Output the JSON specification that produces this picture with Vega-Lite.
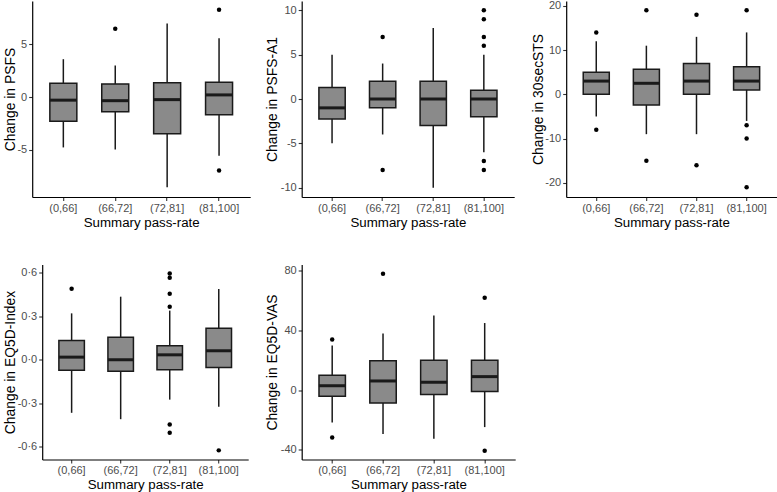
{
  "$schema": "https://vega.github.io/schema/vega-lite/v6.json",
  "background": "white",
  "padding": {"left": 3.2, "top": -1, "right": 0, "bottom": 0},
  "config": {
    "view": {"stroke": null},
    "font": "Liberation Sans",
    "axis": {
      "grid": false,
      "domainColor": "#000000",
      "domainWidth": 1.2,
      "tickColor": "#333333",
      "tickWidth": 1.1,
      "tickSize": 3.5,
      "labelColor": "#4d4d4d",
      "labelFontSize": 11,
      "labelFont": "Liberation Sans",
      "labelPadding": 2,
      "titleFont": "Liberation Sans",
      "titleFontSize": 13.3,
      "titleFontWeight": "normal",
      "titleColor": "#000000"
    },
    "axisX": {"labelAngle": 0, "titlePadding": 2},
    "axisY": {"titlePadding": 0, "titleFontSize": 13.9}
  },
  "datasets": {
    "stats": [
      {"m": "PSFS", "g": "(0,66]", "lo": -4.8, "q1": -2.3, "med": -0.3, "q3": 1.3, "hi": 3.6},
      {"m": "PSFS", "g": "(66,72]", "lo": -5.0, "q1": -1.4, "med": -0.35, "q3": 1.25, "hi": 3.0},
      {"m": "PSFS", "g": "(72,81]", "lo": -8.6, "q1": -3.5, "med": -0.25, "q3": 1.35, "hi": 7.0},
      {"m": "PSFS", "g": "(81,100]", "lo": -5.6, "q1": -1.7, "med": 0.2, "q3": 1.4, "hi": 5.6},
      {"m": "PSFS-A1", "g": "(0,66]", "lo": -5, "q1": -2.25, "med": -1, "q3": 1.3, "hi": 5},
      {"m": "PSFS-A1", "g": "(66,72]", "lo": -4, "q1": -1, "med": 0, "q3": 2, "hi": 4},
      {"m": "PSFS-A1", "g": "(72,81]", "lo": -10, "q1": -3, "med": 0, "q3": 2, "hi": 8},
      {"m": "PSFS-A1", "g": "(81,100]", "lo": -6, "q1": -2, "med": 0, "q3": 1, "hi": 5},
      {"m": "30secSTS", "g": "(0,66]", "lo": -5, "q1": 0, "med": 3, "q3": 5, "hi": 12},
      {"m": "30secSTS", "g": "(66,72]", "lo": -9, "q1": -2.4, "med": 2.5, "q3": 5.7, "hi": 11},
      {"m": "30secSTS", "g": "(72,81]", "lo": -9, "q1": 0, "med": 3, "q3": 7, "hi": 13},
      {"m": "30secSTS", "g": "(81,100]", "lo": -6, "q1": 1, "med": 3, "q3": 6.25, "hi": 14},
      {"m": "EQ5D-Index", "g": "(0,66]", "lo": -0.366, "q1": -0.073, "med": 0.018, "q3": 0.133, "hi": 0.32},
      {"m": "EQ5D-Index", "g": "(66,72]", "lo": -0.41, "q1": -0.08, "med": 0, "q3": 0.156, "hi": 0.435},
      {"m": "EQ5D-Index", "g": "(72,81]", "lo": -0.275, "q1": -0.069, "med": 0.034, "q3": 0.096, "hi": 0.339},
      {"m": "EQ5D-Index", "g": "(81,100]", "lo": -0.325, "q1": -0.053, "med": 0.062, "q3": 0.218, "hi": 0.488},
      {"m": "EQ5D-VAS", "g": "(0,66]", "lo": -21.6, "q1": -4, "med": 3, "q3": 10, "hi": 30},
      {"m": "EQ5D-VAS", "g": "(66,72]", "lo": -29.4, "q1": -8.5, "med": 6.2, "q3": 19.8, "hi": 38},
      {"m": "EQ5D-VAS", "g": "(72,81]", "lo": -32.5, "q1": -2.9, "med": 5.3, "q3": 20, "hi": 50},
      {"m": "EQ5D-VAS", "g": "(81,100]", "lo": -24.7, "q1": -0.9, "med": 9.1, "q3": 20, "hi": 45}
    ],
    "out": [
      {"m": "PSFS", "g": "(66,72]", "v": 6.5},
      {"m": "PSFS", "g": "(81,100]", "v": 8.3},
      {"m": "PSFS", "g": "(81,100]", "v": -7.0},
      {"m": "PSFS-A1", "g": "(66,72]", "v": 7},
      {"m": "PSFS-A1", "g": "(66,72]", "v": -8},
      {"m": "PSFS-A1", "g": "(81,100]", "v": 10},
      {"m": "PSFS-A1", "g": "(81,100]", "v": 9},
      {"m": "PSFS-A1", "g": "(81,100]", "v": 7},
      {"m": "PSFS-A1", "g": "(81,100]", "v": 6},
      {"m": "PSFS-A1", "g": "(81,100]", "v": -7},
      {"m": "PSFS-A1", "g": "(81,100]", "v": -8},
      {"m": "30secSTS", "g": "(0,66]", "v": 14},
      {"m": "30secSTS", "g": "(0,66]", "v": -8},
      {"m": "30secSTS", "g": "(66,72]", "v": 19},
      {"m": "30secSTS", "g": "(66,72]", "v": -15},
      {"m": "30secSTS", "g": "(72,81]", "v": 18},
      {"m": "30secSTS", "g": "(72,81]", "v": -16},
      {"m": "30secSTS", "g": "(81,100]", "v": 19},
      {"m": "30secSTS", "g": "(81,100]", "v": -7},
      {"m": "30secSTS", "g": "(81,100]", "v": -10},
      {"m": "30secSTS", "g": "(81,100]", "v": -21},
      {"m": "EQ5D-Index", "g": "(0,66]", "v": 0.49},
      {"m": "EQ5D-Index", "g": "(72,81]", "v": 0.595},
      {"m": "EQ5D-Index", "g": "(72,81]", "v": 0.566},
      {"m": "EQ5D-Index", "g": "(72,81]", "v": 0.456},
      {"m": "EQ5D-Index", "g": "(72,81]", "v": 0.366},
      {"m": "EQ5D-Index", "g": "(72,81]", "v": -0.447},
      {"m": "EQ5D-Index", "g": "(72,81]", "v": -0.504},
      {"m": "EQ5D-Index", "g": "(81,100]", "v": -0.625},
      {"m": "EQ5D-VAS", "g": "(0,66]", "v": 34},
      {"m": "EQ5D-VAS", "g": "(0,66]", "v": -31.6},
      {"m": "EQ5D-VAS", "g": "(66,72]", "v": 78},
      {"m": "EQ5D-VAS", "g": "(81,100]", "v": 62},
      {"m": "EQ5D-VAS", "g": "(81,100]", "v": -40.6}
    ]
  },
  "columns": 3,
  "spacing": {"row": 35.5, "column": 15.5},
  "concat": [
    {
      "width": 218, "height": 196,
      "encoding": {"x": {"field": "g", "type": "nominal", "sort": ["(0,66]", "(66,72]", "(72,81]", "(81,100]"], "scale": {"type": "band", "paddingInner": 0.48, "paddingOuter": 0.34}, "axis": {"title": "Summary pass-rate"}}},
      "layer": [
        {"data": {"name": "stats"}, "transform": [{"filter": "datum.m === 'PSFS'"}], "mark": {"type": "rule", "color": "#1a1a1a", "strokeWidth": 1.5},
         "encoding": {"y": {"field": "lo", "type": "quantitative", "title": "Change in PSFS", "scale": {"domain": [-9.52, 9.14], "nice": false, "zero": false}, "axis": {"values": [-5, 0, 5], "minExtent": 14.9, "maxExtent": 14.9, "labelExpr": "replace(datum.label, '\u2212', '-')"}}, "y2": {"field": "hi"}}},
        {"data": {"name": "stats"}, "transform": [{"filter": "datum.m === 'PSFS'"}], "mark": {"type": "bar", "fill": "#8a8a8a", "stroke": "#1a1a1a", "strokeWidth": 1.5},
         "encoding": {"y": {"field": "q1", "type": "quantitative", "title": "Change in PSFS"}, "y2": {"field": "q3"}}},
        {"data": {"name": "stats"}, "transform": [{"filter": "datum.m === 'PSFS'"}], "mark": {"type": "tick", "color": "#1a1a1a", "thickness": 3, "size": 27, "opacity": 1},
         "encoding": {"y": {"field": "med", "type": "quantitative", "title": "Change in PSFS"}}},
        {"data": {"name": "out"}, "transform": [{"filter": "datum.m === 'PSFS'"}], "mark": {"type": "point", "filled": true, "color": "#000000", "size": 20, "opacity": 1},
         "encoding": {"y": {"field": "v", "type": "quantitative", "title": "Change in PSFS"}}}
      ]
    },
    {
      "width": 212.5, "height": 196,
      "encoding": {"x": {"field": "g", "type": "nominal", "sort": ["(0,66]", "(66,72]", "(72,81]", "(81,100]"], "scale": {"type": "band", "paddingInner": 0.48, "paddingOuter": 0.34}, "axis": {"title": "Summary pass-rate"}}},
      "layer": [
        {"data": {"name": "stats"}, "transform": [{"filter": "datum.m === 'PSFS-A1'"}], "mark": {"type": "rule", "color": "#1a1a1a", "strokeWidth": 1.5},
         "encoding": {"y": {"field": "lo", "type": "quantitative", "title": "Change in PSFS-A1", "scale": {"domain": [-11.05, 11.05], "nice": false, "zero": false}, "axis": {"values": [-10, -5, 0, 5, 10], "minExtent": 21.9, "maxExtent": 21.9, "labelExpr": "replace(datum.label, '\u2212', '-')"}}, "y2": {"field": "hi"}}},
        {"data": {"name": "stats"}, "transform": [{"filter": "datum.m === 'PSFS-A1'"}], "mark": {"type": "bar", "fill": "#8a8a8a", "stroke": "#1a1a1a", "strokeWidth": 1.5},
         "encoding": {"y": {"field": "q1", "type": "quantitative", "title": "Change in PSFS-A1"}, "y2": {"field": "q3"}}},
        {"data": {"name": "stats"}, "transform": [{"filter": "datum.m === 'PSFS-A1'"}], "mark": {"type": "tick", "color": "#1a1a1a", "thickness": 3, "size": 26.3, "opacity": 1},
         "encoding": {"y": {"field": "med", "type": "quantitative", "title": "Change in PSFS-A1"}}},
        {"data": {"name": "out"}, "transform": [{"filter": "datum.m === 'PSFS-A1'"}], "mark": {"type": "point", "filled": true, "color": "#000000", "size": 20, "opacity": 1},
         "encoding": {"y": {"field": "v", "type": "quantitative", "title": "Change in PSFS-A1"}}}
      ]
    },
    {
      "width": 210.5, "height": 196,
      "encoding": {"x": {"field": "g", "type": "nominal", "sort": ["(0,66]", "(66,72]", "(72,81]", "(81,100]"], "scale": {"type": "band", "paddingInner": 0.48, "paddingOuter": 0.34}, "axis": {"title": "Summary pass-rate"}}},
      "layer": [
        {"data": {"name": "stats"}, "transform": [{"filter": "datum.m === '30secSTS'"}], "mark": {"type": "rule", "color": "#1a1a1a", "strokeWidth": 1.5},
         "encoding": {"y": {"field": "lo", "type": "quantitative", "title": "Change in 30secSTS", "scale": {"domain": [-23.2, 21.1], "nice": false, "zero": false}, "axis": {"values": [-20, -10, 0, 10, 20], "minExtent": 20.9, "maxExtent": 20.9, "labelExpr": "replace(datum.label, '\u2212', '-')"}}, "y2": {"field": "hi"}}},
        {"data": {"name": "stats"}, "transform": [{"filter": "datum.m === '30secSTS'"}], "mark": {"type": "bar", "fill": "#8a8a8a", "stroke": "#1a1a1a", "strokeWidth": 1.5},
         "encoding": {"y": {"field": "q1", "type": "quantitative", "title": "Change in 30secSTS"}, "y2": {"field": "q3"}}},
        {"data": {"name": "stats"}, "transform": [{"filter": "datum.m === '30secSTS'"}], "mark": {"type": "tick", "color": "#1a1a1a", "thickness": 3, "size": 26, "opacity": 1},
         "encoding": {"y": {"field": "med", "type": "quantitative", "title": "Change in 30secSTS"}}},
        {"data": {"name": "out"}, "transform": [{"filter": "datum.m === '30secSTS'"}], "mark": {"type": "point", "filled": true, "color": "#000000", "size": 20, "opacity": 1},
         "encoding": {"y": {"field": "v", "type": "quantitative", "title": "Change in 30secSTS"}}}
      ]
    },
    {
      "width": 216, "height": 195,
      "encoding": {"x": {"field": "g", "type": "nominal", "sort": ["(0,66]", "(66,72]", "(72,81]", "(81,100]"], "scale": {"type": "band", "paddingInner": 0.48, "paddingOuter": 0.34, "range": [10, 216]}, "axis": {"title": "Summary pass-rate"}}},
      "layer": [
        {"data": {"name": "stats"}, "transform": [{"filter": "datum.m === 'EQ5D-Index'"}], "mark": {"type": "rule", "color": "#1a1a1a", "strokeWidth": 1.5},
         "encoding": {"y": {"field": "lo", "type": "quantitative", "title": "Change in EQ5D-Index", "scale": {"domain": [-0.688, 0.657], "nice": false, "zero": false}, "axis": {"values": [-0.6, -0.3, 0, 0.3, 0.6], "format": ".1f", "offset": -10, "minExtent": 24.9, "maxExtent": 24.9, "labelExpr": "replace(replace(datum.label, '\u2212', '-'), '.', '\u00b7')"}}, "y2": {"field": "hi"}}},
        {"data": {"name": "stats"}, "transform": [{"filter": "datum.m === 'EQ5D-Index'"}], "mark": {"type": "bar", "fill": "#8a8a8a", "stroke": "#1a1a1a", "strokeWidth": 1.5},
         "encoding": {"y": {"field": "q1", "type": "quantitative", "title": "Change in EQ5D-Index"}, "y2": {"field": "q3"}}},
        {"data": {"name": "stats"}, "transform": [{"filter": "datum.m === 'EQ5D-Index'"}], "mark": {"type": "tick", "color": "#1a1a1a", "thickness": 3, "size": 25.5, "opacity": 1},
         "encoding": {"y": {"field": "med", "type": "quantitative", "title": "Change in EQ5D-Index"}}},
        {"data": {"name": "out"}, "transform": [{"filter": "datum.m === 'EQ5D-Index'"}], "mark": {"type": "point", "filled": true, "color": "#000000", "size": 20, "opacity": 1},
         "encoding": {"y": {"field": "v", "type": "quantitative", "title": "Change in EQ5D-Index"}}}
      ]
    },
    {
      "width": 213.5, "height": 195,
      "encoding": {"x": {"field": "g", "type": "nominal", "sort": ["(0,66]", "(66,72]", "(72,81]", "(81,100]"], "scale": {"type": "band", "paddingInner": 0.48, "paddingOuter": 0.34}, "axis": {"title": "Summary pass-rate"}}},
      "layer": [
        {"data": {"name": "stats"}, "transform": [{"filter": "datum.m === 'EQ5D-VAS'"}], "mark": {"type": "rule", "color": "#1a1a1a", "strokeWidth": 1.5},
         "encoding": {"y": {"field": "lo", "type": "quantitative", "title": "Change in EQ5D-VAS", "scale": {"domain": [-46.4, 84.2], "nice": false, "zero": false}, "axis": {"values": [-40, 0, 40, 80], "minExtent": 21.9, "maxExtent": 21.9, "labelExpr": "replace(datum.label, '\u2212', '-')"}}, "y2": {"field": "hi"}}},
        {"data": {"name": "stats"}, "transform": [{"filter": "datum.m === 'EQ5D-VAS'"}], "mark": {"type": "bar", "fill": "#8a8a8a", "stroke": "#1a1a1a", "strokeWidth": 1.5},
         "encoding": {"y": {"field": "q1", "type": "quantitative", "title": "Change in EQ5D-VAS"}, "y2": {"field": "q3"}}},
        {"data": {"name": "stats"}, "transform": [{"filter": "datum.m === 'EQ5D-VAS'"}], "mark": {"type": "tick", "color": "#1a1a1a", "thickness": 3, "size": 26.6, "opacity": 1},
         "encoding": {"y": {"field": "med", "type": "quantitative", "title": "Change in EQ5D-VAS"}}},
        {"data": {"name": "out"}, "transform": [{"filter": "datum.m === 'EQ5D-VAS'"}], "mark": {"type": "point", "filled": true, "color": "#000000", "size": 20, "opacity": 1},
         "encoding": {"y": {"field": "v", "type": "quantitative", "title": "Change in EQ5D-VAS"}}}
      ]
    }
  ]
}
